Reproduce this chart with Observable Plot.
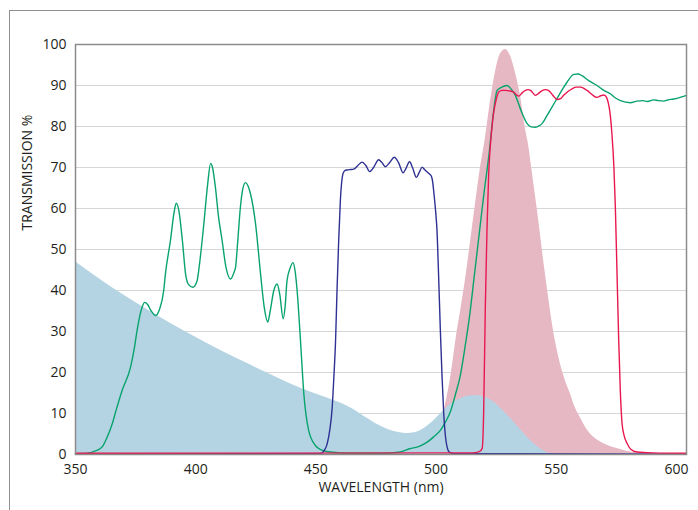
<!DOCTYPE html>
<html><head><meta charset="utf-8">
<script src="https://cdn.jsdelivr.net/npm/d3@7"></script>
<script src="https://cdn.jsdelivr.net/npm/@observablehq/plot@0.6"></script>
<style>
body{margin:0;background:#fff;}
#wrap{position:relative;width:698px;height:510px;overflow:hidden;background:#fff;}
#border{position:absolute;left:9px;top:10px;width:760px;height:600px;border-left:1.5px solid #8f8f8f;border-top:1.5px solid #8f8f8f;}
#chart{position:absolute;left:0;top:0;}
</style></head>
<body><div id="wrap"><div id="border"></div><div id="chart"></div></div>
<script>
const xTicks = [350, 400, 450, 500, 550, 600];
const yTicks = [0, 10, 20, 30, 40, 50, 60, 70, 80, 90, 100];
const gridVals = [10, 20, 30, 40, 50, 60, 70, 80, 90];
const xLabel = "WAVELENGTH (nm)";
const yLabel = "TRANSMISSION %";

// Light-blue filled spectrum
const blueWl = [350, 360, 370, 380, 390, 400, 410, 420, 430, 440, 448, 455, 460, 465, 470, 475, 480, 485, 488, 491, 494, 497, 500, 503, 507, 511, 515, 518, 521, 524, 527, 530, 534, 538, 542, 546, 549, 552];
const blueT  = [47, 42.8, 38.9, 35.3, 31.8, 28.6, 25.5, 22.6, 19.8, 17.1, 15.2, 13.7, 12.6, 11.2, 9.3, 7.5, 6.1, 5.3, 5.1, 5.3, 6, 7.2, 8.8, 10.6, 12.6, 13.8, 14.3, 14.3, 13.8, 12.8, 11.2, 9.4, 6.8, 4.2, 2, 0.5, 0.05, 0];

// Pink filled spectrum
const pinkWl = [350, 485, 490, 495, 500, 503, 506, 508.8, 510.5, 512.2, 515.7, 518.5, 520.5, 522.6, 524.7, 526.8, 528.9, 530.9, 533, 535.1, 537.2, 538.5, 540, 542, 545.5, 549.6, 552, 553.8, 555.9, 557.5, 560, 563, 566, 569.6, 575, 582, 590, 604.2];
const pinkT  = [0, 0, 1, 3, 5.5, 10, 18.5, 30, 36, 42.4, 57.9, 70, 77, 85.9, 93.2, 97.7, 98.8, 97.3, 93.2, 87.6, 79.4, 75.5, 69, 60.3, 44, 27.8, 21.5, 18, 14.8, 12, 9, 5.9, 4, 2.7, 1.5, 0.5, 0.3, 0.2];

// Green transmission curve
const greenWl = [350, 355, 358, 361, 363, 365.3, 367, 369.4, 372.9, 374.5, 375.6, 377.7, 378.8, 380, 381.5, 383.3, 385, 386.7, 387.4, 389.5, 391, 391.9, 393, 394.5, 395.8, 397, 398.8, 400.6, 401.5, 403.4, 405, 406.2, 407, 408.2, 409.5, 411, 412.5, 414.5, 416, 416.6, 417.5, 418.6, 419.5, 420.7, 421.8, 422.8, 424.9, 427, 428.5, 430, 431, 432.5, 433.9, 435, 436.4, 437.2, 438, 439.3, 440.5, 441.3, 442.2, 443.6, 445, 447, 449.8, 452, 456, 465, 478, 485, 489, 493, 496.3, 499, 501.8, 504, 506, 508, 510, 512, 514, 516, 518, 520, 522, 524, 525.4, 527, 529.6, 531, 533, 535.1, 537.9, 539.5, 541.3, 543, 544.1, 546.2, 548, 550.3, 552.5, 554.5, 557.3, 559, 560.7, 563.5, 567, 569.8, 572.5, 574.5, 576.7, 580.9, 583.6, 586, 588, 590.5, 592.5, 594.7, 596.5, 598.9, 601.5, 604.2];
const greenT  = [0.2, 0.3, 0.8, 1.8, 4, 7.5, 11, 15.6, 21.3, 26, 30.2, 35.9, 37.1, 36.6, 35, 33.9, 35.5, 40, 44, 52.2, 59, 61.3, 59.5, 52, 44, 41.5, 40.8, 42.4, 46, 56.3, 66, 71, 70, 65.2, 58, 52.2, 46, 42.8, 44.5, 45.7, 52, 60.3, 64.5, 66.3, 65.5, 63.6, 56.3, 44, 36, 32.3, 35, 40, 41.6, 39, 33.1, 36, 42.4, 45.5, 46.8, 45, 40, 27.8, 14.8, 5.9, 2.2, 1.2, 0.6, 0.3, 0.3, 0.6, 1.4, 2, 3, 4.3, 5.9, 8, 10.5, 14.5, 19, 26, 34, 44, 54, 64, 73, 84, 88.8, 89.5, 90, 89.3, 87.6, 84.3, 80.7, 79.9, 79.8, 80.2, 80.7, 82.7, 84.5, 86.8, 89, 90.8, 92.7, 92.8, 92.4, 91.2, 90, 88.8, 88, 87, 86.3, 85.8, 86.2, 86.3, 86.1, 86.5, 86.3, 86.2, 86.5, 86.7, 87.1, 87.6];

// Navy transmission curve
const navyWl = [350, 451.9, 453.5, 454.7, 455.8, 456.8, 457.5, 458.2, 458.8, 459.5, 460.2, 461.3, 462, 463, 464.5, 465.7, 467.5, 469.2, 470.8, 472.4, 474, 476.1, 477.5, 478.9, 480.8, 482.6, 484.4, 486.3, 487.5, 489, 490.2, 491.8, 493, 494.2, 495.2, 496.3, 497.3, 498.1, 498.6, 499, 499.8, 500.4, 501.1, 501.8, 502.5, 503.2, 503.9, 504.6, 505.5, 507.2, 604.2];
const navyT  = [0.2, 0.2, 1, 2.6, 6, 11.5, 19, 27.8, 40, 52.2, 62, 68.5, 69.2, 69.4, 69.5, 69.6, 70.5, 71.3, 70.5, 69, 70, 71.9, 71.2, 70.2, 71.3, 72.5, 71.2, 68.7, 69.8, 71.4, 70, 67.6, 68.8, 70.1, 69.5, 68.9, 68.4, 67.8, 66.5, 64.4, 59.5, 54.6, 43, 30.2, 19, 10, 4.5, 1.8, 0.6, 0.2, 0.1];

// Red transmission curve
const redWl = [350, 515, 518, 519.2, 519.8, 520.5, 521.2, 521.9, 522.6, 523.3, 524, 525, 526.1, 527.5, 528.9, 530.5, 532.3, 533.5, 534.4, 535.8, 537.2, 538.2, 539.3, 540.3, 541.3, 542.5, 544, 545.5, 547, 548.5, 550.3, 551.8, 553.1, 555, 556.6, 558.3, 560, 561.5, 562.8, 564.5, 566, 567, 568.5, 569.8, 570.6, 571.2, 572.5, 573.2, 574, 574.6, 575.3, 576, 576.7, 577.4, 578.3, 579.5, 581, 583.6, 590, 604.2];
const redT  = [0.3, 0.4, 0.7, 1.5, 10, 36, 55, 68.5, 75.4, 80, 83.5, 86.5, 88.4, 88.8, 88.8, 88.7, 88.4, 87.7, 87.4, 88.2, 88.8, 89, 88.8, 88.2, 87.6, 88, 88.7, 89, 88.7, 87.7, 86.6, 86.8, 87.6, 88.6, 89.2, 89.6, 89.6, 89.3, 88.8, 88, 87.3, 87.1, 87.5, 87.7, 87.4, 86.7, 82.7, 78, 70, 60.3, 44, 27.8, 15, 7.5, 4.5, 2.7, 1.3, 0.6, 0.4, 0.3];

const rows = (wl, t) => wl.map((w, i) => ({w, t: t[i]}));
const blue = rows(blueWl, blueT);
const pink = rows(pinkWl, pinkT);
const green = rows(greenWl, greenT);
const navy = rows(navyWl, navyT);
const red = rows(redWl, redT);

const chart = Plot.plot({
  width: 698, height: 510,
  marginLeft: 75, marginRight: 12, marginTop: 44, marginBottom: 56,
  style: {fontFamily: "'Open Sans', sans-serif", fontSize: "14px", color: "#231f20", background: "transparent", overflow: "visible"},
  x: {domain: [350, 604.2]},
  y: {domain: [0, 100]},
  marks: [
    Plot.ruleY(gridVals, {stroke: "#d6d6d6", strokeWidth: 1}),
    Plot.areaY(pink, {x: "w", y: "t", fill: "#e6b8c4", curve: "monotone-x"}),
    Plot.areaY(blue, {x: "w", y: "t", fill: "#b5d4e3", curve: "monotone-x"}),
    Plot.lineY(green, {x: "w", y: "t", stroke: "#08a36d", strokeWidth: 1.4, curve: "monotone-x"}),
    Plot.lineY(navy, {x: "w", y: "t", stroke: "#2e3192", strokeWidth: 1.4, curve: "monotone-x"}),
    Plot.lineY(red, {x: "w", y: "t", stroke: "#e8184f", strokeWidth: 1.4, curve: "monotone-x"}),
    Plot.frame({stroke: "#8c8c8c", strokeWidth: 1.5}),
    Plot.axisX({ticks: xTicks, tickSize: 0, tickPadding: 10, label: null, tickFormat: d => String(d)}),
    Plot.axisY({ticks: yTicks, tickSize: 0, tickPadding: 9, label: null}),
    Plot.text([xLabel], {text: d => d, frameAnchor: "bottom", dy: 37, fontSize: 14, fill: "#231f20"}),
    Plot.text([yLabel], {text: d => d, frameAnchor: "left", rotate: -90, dx: -48, dy: -19, fontSize: 14, fill: "#231f20"})
  ]
});
document.getElementById("chart").appendChild(chart);
</script>
</body></html>
